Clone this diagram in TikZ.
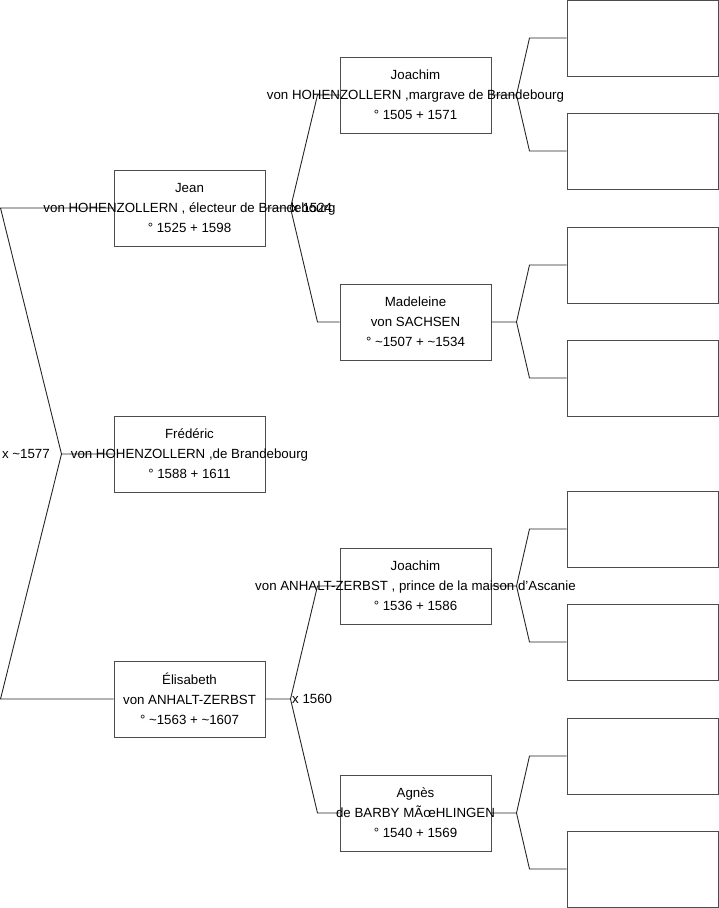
\documentclass[tikz,border=0pt]{standalone}
\usepackage{fontspec}
\setmainfont{Liberation Sans}
\usetikzlibrary{positioning,calc}

\begin{document}
\begin{tikzpicture}[x=1pt, y=-1pt, font=\fontsize{13.3}{20}\selectfont,
  person/.style={draw=black!70, line width=1pt, minimum width=151pt, minimum height=76pt, inner sep=0pt},
  emptybox/.style={person},
  who/.style={align=center, inner sep=0pt},
  link/.style={draw=black!85, line width=0.9pt},
  wed/.style={inner sep=1.5pt}]
  \useasboundingbox (0,0) rectangle (719,908);
  % generation 1
  \node[person] (jean) at (189.5,208) {};
  \node[person] (frederic) at (189.5,454) {};
  \node[person] (elisabeth) at (189.5,699) {};
  % generation 2
  \node[person] (joachimH) at (415.5,95) {};
  \node[person] (madeleine) at (415.5,322) {};
  \node[person] (joachimA) at (415.5,586) {};
  \node[person] (agnes) at (415.5,813) {};
  % generation 3, empty
  \node[emptybox] (r1) at (642.5,38) {};
  \node[emptybox] (r2) at (642.5,151) {};
  \node[emptybox] (r3) at (642.5,265) {};
  \node[emptybox] (r4) at (642.5,378) {};
  \node[emptybox] (r5) at (642.5,529) {};
  \node[emptybox] (r6) at (642.5,642) {};
  \node[emptybox] (r7) at (642.5,756) {};
  \node[emptybox] (r8) at (642.5,869) {};
  % connectors
  \draw[link] (frederic.west) -- ++(-52,0) coordinate (kF) -- ([xshift=-113]jean.west) -- (jean.west);
  \draw[link] (kF) -- ([xshift=-113]elisabeth.west) -- (elisabeth.west);
  \draw[link] (jean.east) -- ++(25,0) coordinate (kJ) -- ([xshift=-22]joachimH.west) -- (joachimH.west);
  \draw[link] (kJ) -- ([xshift=-22]madeleine.west) -- (madeleine.west);
  \draw[link] (elisabeth.east) -- ++(25,0) coordinate (kE) -- ([xshift=-22]joachimA.west) -- (joachimA.west);
  \draw[link] (kE) -- ([xshift=-22]agnes.west) -- (agnes.west);
  \draw[link] (joachimH.east) -- ++(25,0) coordinate (kH) -- ([xshift=-37]r1.west) -- (r1.west);
  \draw[link] (kH) -- ([xshift=-37]r2.west) -- (r2.west);
  \draw[link] (madeleine.east) -- ++(25,0) coordinate (kM) -- ([xshift=-37]r3.west) -- (r3.west);
  \draw[link] (kM) -- ([xshift=-37]r4.west) -- (r4.west);
  \draw[link] (joachimA.east) -- ++(25,0) coordinate (kA) -- ([xshift=-37]r5.west) -- (r5.west);
  \draw[link] (kA) -- ([xshift=-37]r6.west) -- (r6.west);
  \draw[link] (agnes.east) -- ++(25,0) coordinate (kG) -- ([xshift=-37]r7.west) -- (r7.west);
  \draw[link] (kG) -- ([xshift=-37]r8.west) -- (r8.west);
  % marriages
  \node[wed, left=10pt of kF] (m0) {x \textasciitilde1577};
  \node[wed, anchor=west] (m1) at (kJ) {x 1524};
  \node[wed, anchor=west] (m2) at (kE) {x 1560};
  % names
  \node[who] (jeanT) at (jean) {Jean\\von HOHENZOLLERN , électeur de Brandebourg\\° 1525 + 1598};
  \node[who] (fredericT) at (frederic) {Frédéric\\von HOHENZOLLERN ,de Brandebourg\\° 1588 + 1611};
  \node[who] (elisabethT) at (elisabeth) {Élisabeth\\von ANHALT-ZERBST\\° \textasciitilde1563 + \textasciitilde1607};
  \node[who] (joachimHT) at (joachimH) {Joachim\\von HOHENZOLLERN ,margrave de Brandebourg\\° 1505 + 1571};
  \node[who] (madeleineT) at (madeleine) {Madeleine\\von SACHSEN\\° \textasciitilde1507 + \textasciitilde1534};
  \node[who] (joachimAT) at (joachimA) {Joachim\\von ANHALT-ZERBST , prince de la maison d'Ascanie\\° 1536 + 1586};
  \node[who] (agnesT) at (agnes) {Agnès\\de BARBY MÃœHLINGEN\\° 1540 + 1569};
\end{tikzpicture}
\end{document}
